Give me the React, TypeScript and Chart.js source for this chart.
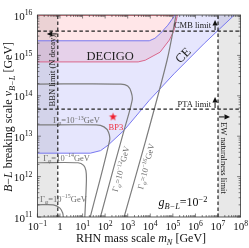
import React, { useEffect, useRef } from "react";
import { Chart, registerables } from "chart.js";
Chart.register(...registerables);

const SERIF = '"Liberation Serif", "Times New Roman", "DejaVu Serif", serif';

// axes
const xTickValues = [0.1, 1, 10, 100, 1e3, 1e4, 1e5, 1e6, 1e7, 1e8];
const xTickExps = ["−1", "", "1", "2", "3", "4", "5", "6", "7", "8"];
const yTickValues = [1e11, 1e12, 1e13, 1e14, 1e15, 1e16];
const yTickExps = ["11", "12", "13", "14", "15", "16"];

// CE sensitivity region
const ceUpperM = [0.1, 9000, 16000, 28000, 60000, 125000, 140000, 5.3e7];
const ceUpperV = [2.3e15, 2.3e15, 2.65e15, 3.5e15, 5.6e15, 1e16, 1.1e16, 1.1e16];
const ceLowerM = [0.1, 22, 63, 135, 690, 8800, 112000, 2.5e6, 5.3e7];
const ceLowerV = [3.8e12, 3.8e12, 4.4e12, 6.0e12, 1.4e13, 7.6e13, 3.5e14, 2.0e15, 1e16];

// DECIGO sensitivity region
const decigoM = [0.1, 2900, 6000, 27000, 70000, 110000, 160000];
const decigoV = [6.9e14, 6.9e14, 7.6e14, 1.2e15, 2.4e15, 4.0e15, 1e16];
const decigoTopM = [0.1, 160000];
const decigoTopV = [1e16, 1e16];

// limits
const bbnMass = 0.8;
const ewMass = 1e7;
const cmbV = 4e15;
const ptaV = 4.7e13;

// Gamma_phi contours
const g12M = [0.1, 500, 1000, 1410, 1585, 692, 224, 62];
const g12V = [1.95e14, 1.95e14, 1.74e14, 1.26e14, 7.9e13, 1.41e13, 1.45e12, 1e11];
const g13M = [0.1, 40, 89, 141, 158, 22];
const g13V = [1.9e13, 1.9e13, 1.7e13, 1.26e13, 7.9e12, 1e11];
const g14M = [0.1, 6.3, 11.2, 14.1, 14.8, 12.6];
const g14V = [2.2e12, 2.2e12, 1.9e12, 1.41e12, 7.9e11, 1e11];
const g15M = [0.1, 0.5, 1.0, 1.32, 1.41];
const g15V = [2e11, 2e11, 1.66e11, 1.26e11, 1e11];
const g16M = [692, 6300, 56000, 138000];
const g16V = [1e11, 7.9e12, 7.8e14, 1e16];

// benchmark point
const bpM = [224];
const bpV = [3e13];

const pts = (m: number[], v: number[]) => m.map((x, i) => ({ x, y: v[i] }));

type Seg = { t: string; it?: boolean; sub?: boolean; sup?: boolean };

function drawRich(
  ctx: CanvasRenderingContext2D,
  segs: Seg[],
  x: number,
  y: number,
  size: number,
  align: "left" | "center" | "right",
  color: string,
  angle = 0
) {
  ctx.save();
  ctx.translate(x, y);
  ctx.rotate(angle);
  ctx.fillStyle = color;
  ctx.textBaseline = "alphabetic";
  ctx.textAlign = "left";
  const fontFor = (s: Seg) =>
    `${s.it ? "italic " : ""}${s.sub || s.sup ? size * 0.7 : size}px ${SERIF}`;
  let w = 0;
  for (const s of segs) {
    ctx.font = fontFor(s);
    w += ctx.measureText(s.t).width;
  }
  let cx = align === "center" ? -w / 2 : align === "right" ? -w : 0;
  const base = size * 0.33;
  for (const s of segs) {
    ctx.font = fontFor(s);
    const dy = s.sub ? size * 0.22 : s.sup ? -size * 0.4 : 0;
    ctx.fillText(s.t, cx, base + dy);
    cx += ctx.measureText(s.t).width;
  }
  ctx.restore();
}

function arrow(ctx: CanvasRenderingContext2D, x0: number, y0: number, x1: number, y1: number) {
  const a = Math.atan2(y1 - y0, x1 - x0);
  const hl = 5.5, hw = 2.6;
  ctx.save();
  ctx.strokeStyle = "#111";
  ctx.fillStyle = "#111";
  ctx.lineWidth = 1;
  ctx.beginPath();
  ctx.moveTo(x0, y0);
  ctx.lineTo(x1 - hl * Math.cos(a), y1 - hl * Math.sin(a));
  ctx.stroke();
  ctx.beginPath();
  ctx.moveTo(x1, y1);
  ctx.lineTo(x1 - hl * Math.cos(a) - hw * Math.sin(a), y1 - hl * Math.sin(a) + hw * Math.cos(a));
  ctx.lineTo(x1 - hl * Math.cos(a) + hw * Math.sin(a), y1 - hl * Math.sin(a) - hw * Math.cos(a));
  ctx.closePath();
  ctx.fill();
  ctx.restore();
}

function makeStar(r: number, color: string) {
  const c = document.createElement("canvas");
  const s = Math.ceil(r * 2 + 2);
  c.width = s;
  c.height = s;
  const g = c.getContext("2d")!;
  g.fillStyle = color;
  g.beginPath();
  for (let i = 0; i < 10; i++) {
    const a = -Math.PI / 2 + (i * Math.PI) / 5;
    const rr = i % 2 === 0 ? r : r * 0.42;
    g.lineTo(s / 2 + rr * Math.cos(a), s / 2 + rr * Math.sin(a));
  }
  g.closePath();
  g.fill();
  return c;
}

const overlay = {
  id: "overlay",
  afterDraw(chart: any) {
    const ctx: CanvasRenderingContext2D = chart.ctx;
    const xs = chart.scales.x;
    const ys = chart.scales.y;
    const { left, right, top, bottom } = chart.chartArea;
    const P = (m: number, v: number) => [xs.getPixelForValue(m), ys.getPixelForValue(v)];

    // frame
    ctx.save();
    ctx.strokeStyle = "#333";
    ctx.lineWidth = 0.8;
    ctx.strokeRect(left, top, right - left, bottom - top);
    ctx.lineWidth = 0.6;
    ctx.beginPath();
    for (let e = -1; e < 8; e++) {
      for (let k = 1; k < 10; k++) {
        const val = k * Math.pow(10, e);
        const px = xs.getPixelForValue(val);
        const len = k === 1 ? 3.5 : 2;
        ctx.moveTo(px, bottom);
        ctx.lineTo(px, bottom - len);
        ctx.moveTo(px, top);
        ctx.lineTo(px, top + len);
      }
    }
    for (let e = 11; e < 16; e++) {
      for (let k = 1; k < 10; k++) {
        const val = k * Math.pow(10, e);
        const py = ys.getPixelForValue(val);
        const len = k === 1 ? 3.5 : 2;
        ctx.moveTo(left, py);
        ctx.lineTo(left + len, py);
        ctx.moveTo(right, py);
        ctx.lineTo(right - len, py);
      }
    }
    ctx.stroke();
    ctx.restore();

    // tick labels
    xTickValues.forEach((v, i) => {
      const px = xs.getPixelForValue(v);
      const segs: Seg[] = xTickExps[i] === "" ? [{ t: "1" }] : [{ t: "10" }, { t: xTickExps[i], sup: true }];
      drawRich(ctx, segs, px, bottom + 9.5, 11, "center", "#111");
    });
    yTickValues.forEach((v, i) => {
      const py = ys.getPixelForValue(v);
      drawRich(ctx, [{ t: "10" }, { t: yTickExps[i], sup: true }], left - 5, py + 1, 11, "right", "#111");
    });

    // axis titles
    drawRich(
      ctx,
      [{ t: "RHN mass scale " }, { t: "m", it: true }, { t: "N", it: true, sub: true }, { t: " [GeV]" }],
      (left + right) / 2 + 2,
      238,
      12,
      "center",
      "#111"
    );
    drawRich(
      ctx,
      [
        { t: "B", it: true },
        { t: "−" },
        { t: "L", it: true },
        { t: " breaking scale " },
        { t: "v", it: true },
        { t: "B−L", it: true, sub: true },
        { t: " [GeV]" },
      ],
      8.5,
      (top + bottom) / 2 + 1,
      12,
      "center",
      "#111",
      -Math.PI / 2
    );

    // region labels
    let p = P(166, 9.7e14);
    drawRich(ctx, [{ t: "DECIGO" }], p[0], p[1], 12.5, "center", "#222");
    p = P(2.8e5, 1.02e15);
    drawRich(ctx, [{ t: "CE" }], p[0], p[1], 12.5, "center", "#222", -0.8);

    p = P(4.9e6, 5.6e15);
    drawRich(ctx, [{ t: "CMB limit" }], p[0], p[1], 8.5, "right", "#222");
    p = P(4.9e6, 6.3e13);
    drawRich(ctx, [{ t: "PTA limit" }], p[0], p[1], 8.5, "right", "#222");
    p = P(0.44, 4.2e14);
    drawRich(ctx, [{ t: "BBN limit (N decay)" }], p[0], p[1], 8.5, "center", "#222", -Math.PI / 2);
    p = P(1.86e7, 2.9e12);
    drawRich(ctx, [{ t: "EW naturalness limit" }], p[0], p[1], 8.5, "center", "#222", Math.PI / 2);

    // arrows
    const ax = xs.getPixelForValue(7.4e6);
    const cmbY = ys.getPixelForValue(cmbV);
    arrow(ctx, ax, cmbY - 1, ax, cmbY - 11);
    const ptaY = ys.getPixelForValue(ptaV);
    arrow(ctx, ax, ptaY - 1, ax, ptaY - 12);
    const ewX = xs.getPixelForValue(ewMass);
    const ey = ys.getPixelForValue(3e13);
    arrow(ctx, ewX + 1, ey, ewX + 12, ey);
    const bbX = xs.getPixelForValue(bbnMass);
    const by = ys.getPixelForValue(3.4e15);
    arrow(ctx, bbX - 1, by, bbX - 11, by);

    // Gamma labels
    const gcol = "#6e6e6e";
    const gl = (e: string): Seg[] => [
      { t: "Γ" },
      { t: "φ", it: true, sub: true },
      { t: "=10" },
      { t: e, sup: true },
      { t: "GeV" },
    ];
    p = P(0.49, 2.5e13);
    drawRich(ctx, gl("−13"), p[0], p[1], 8.5, "left", gcol);
    p = P(0.18, 2.9e12);
    drawRich(ctx, gl("−14"), p[0], p[1], 8.5, "left", gcol);
    p = P(0.13, 2.8e11);
    drawRich(ctx, gl("−15"), p[0], p[1], 8.5, "left", gcol);
    p = P(500, 1.55e12);
    drawRich(ctx, gl("−12"), p[0], p[1], 8.5, "center", gcol, -1.31);
    p = P(6500, 1.8e12);
    drawRich(ctx, gl("−16"), p[0], p[1], 8.5, "center", gcol, -1.32);

    // BP3
    p = P(300, 1.7e13);
    drawRich(ctx, [{ t: "BP3" }], p[0], p[1], 8.5, "center", "#f03040");

    // coupling
    p = P(2.8e5, 2.3e11);
    drawRich(
      ctx,
      [{ t: "g", it: true }, { t: "B−L", it: true, sub: true }, { t: "=10" }, { t: "−2", sup: true }],
      p[0],
      p[1],
      12,
      "center",
      "#111"
    );
  },
};

export default function App() {
  const ref = useRef<HTMLCanvasElement>(null);
  useEffect(() => {
    const canvas = ref.current!;
    const star = makeStar(4.2, "#f02030");
    const dashed = (m: number[], v: number[]) => ({
      data: pts(m, v),
      showLine: true,
      borderColor: "#222",
      borderWidth: 1.2,
      borderDash: [3.5, 2.5],
      pointRadius: 0,
      fill: false,
    });
    const contour = (m: number[], v: number[]) => ({
      data: pts(m, v),
      showLine: true,
      borderColor: "#7d7d7d",
      borderWidth: 1.2,
      tension: 0.3,
      pointRadius: 0,
      fill: false,
    });
    const datasets: any[] = [
      { data: pts(bpM, bpV), pointStyle: star, pointRadius: 5, showLine: false },
      dashed([0.1, 1e8], [cmbV, cmbV]),
      dashed([0.1, 1e8], [ptaV, ptaV]),
      dashed([bbnMass, bbnMass], [1e11, 1e16]),
      dashed([ewMass, ewMass], [1e11, 1e16]),
      contour(g12M, g12V),
      contour(g13M, g13V),
      contour(g14M, g14V),
      contour(g15M, g15V),
      contour(g16M, g16V),
      {
        data: pts(ceUpperM, ceUpperV),
        showLine: true,
        borderColor: "#7878f0",
        borderWidth: 1,
        pointRadius: 0,
        fill: false,
      },
      {
        data: pts(ceLowerM, ceLowerV),
        showLine: true,
        borderColor: "#7878f0",
        borderWidth: 1,
        pointRadius: 0,
        backgroundColor: "rgba(100,100,245,0.16)",
        fill: { target: 10 },
      },
      {
        data: pts(decigoTopM, decigoTopV),
        showLine: true,
        borderColor: "#f06878",
        borderWidth: 1.4,
        pointRadius: 0,
        fill: false,
      },
      {
        data: pts(decigoM, decigoV),
        showLine: true,
        borderColor: "#f06878",
        borderWidth: 1,
        pointRadius: 0,
        backgroundColor: "rgba(255,90,100,0.15)",
        fill: "end",
      },
      {
        data: pts([0.1, bbnMass], [1e16, 1e16]),
        showLine: true,
        borderWidth: 0,
        pointRadius: 0,
        backgroundColor: "rgba(140,140,140,0.2)",
        fill: "start",
      },
      {
        data: pts([ewMass, 1e8], [1e16, 1e16]),
        showLine: true,
        borderWidth: 0,
        pointRadius: 0,
        backgroundColor: "rgba(140,140,140,0.2)",
        fill: "start",
      },
    ];
    const chart = new Chart(canvas, {
      type: "scatter",
      data: { datasets },
      options: {
        animation: false,
        responsive: false,
        maintainAspectRatio: false,
        layout: { padding: { top: 15, right: 8.4, left: 0, bottom: 0 } },
        plugins: { legend: { display: false }, tooltip: { enabled: false } },
        scales: {
          x: {
            type: "logarithmic",
            min: 0.1,
            max: 1e8,
            ticks: { display: false },
            grid: { display: false },
            border: { display: false },
            afterFit: (s: any) => {
              s.height = 31;
            },
          },
          y: {
            type: "logarithmic",
            min: 1e11,
            max: 1e16,
            ticks: { display: false },
            grid: { display: false },
            border: { display: false },
            afterFit: (s: any) => {
              s.width = 37.4;
            },
          },
        },
      } as any,
      plugins: [overlay],
    });
    return () => chart.destroy();
  }, []);
  return (
    <div style={{ position: "fixed", left: 0, top: 0, width: 249, height: 248, background: "#fff" }}>
      <canvas ref={ref} width={249} height={248} style={{ display: "block" }} />
    </div>
  );
}
